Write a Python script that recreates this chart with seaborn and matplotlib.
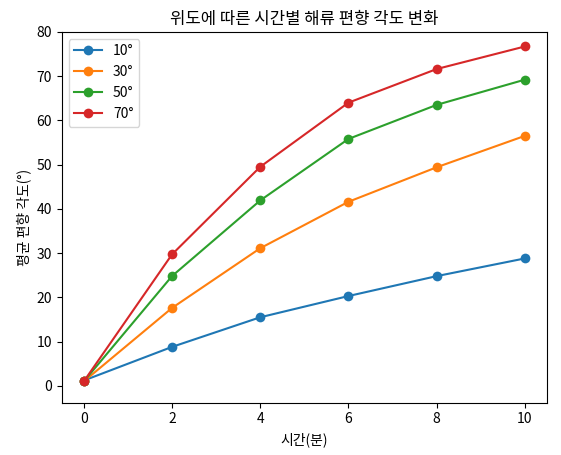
import matplotlib
matplotlib.use("Agg")
import matplotlib.pyplot as plt
import seaborn as sns
import pandas as pd

times = [0, 2, 4, 6, 8, 10]
lat_labels = ["10°", "30°", "50°", "70°"]
v10 = [1.2, 8.8, 15.5, 20.3, 24.8, 28.8]
v30 = [1.0, 17.6, 31.1, 41.6, 49.4, 56.5]
v50 = [1.0, 24.8, 41.9, 55.8, 63.5, 69.2]
v70 = [1.0, 29.7, 49.5, 64.0, 71.6, 76.7]

plt.rcParams['font.family'] = ['Noto Sans CJK KR', 'DejaVu Sans']
plt.rcParams['axes.unicode_minus'] = False

rows = []
for lab, vals in zip(lat_labels, [v10, v30, v50, v70]):
    for t, v in zip(times, vals):
        rows.append({"t": t, "v": v, "lat": lab})
df = pd.DataFrame(rows)

fig, ax = plt.subplots(figsize=(5.61, 4.55), dpi=100)
sns.lineplot(data=df, x="t", y="v", hue="lat", marker="o", markeredgewidth=0,
             markersize=7, palette=["#1f77b4", "#ff7f0e", "#2ca02c", "#d62728"], ax=ax)
ax.set_title("위도에 따른 시간별 해류 편향 각도 변화")
ax.set_xlabel("시간(분)")
ax.set_ylabel("평균 편향 각도(°)")
ax.set_xticks(times)
ax.set_ylim(-3.8, 80)
ax.legend(title=None, loc="upper left")
fig.subplots_adjust(left=0.11, right=0.975, top=0.93, bottom=0.115)
fig.savefig("out.png", dpi=100)
